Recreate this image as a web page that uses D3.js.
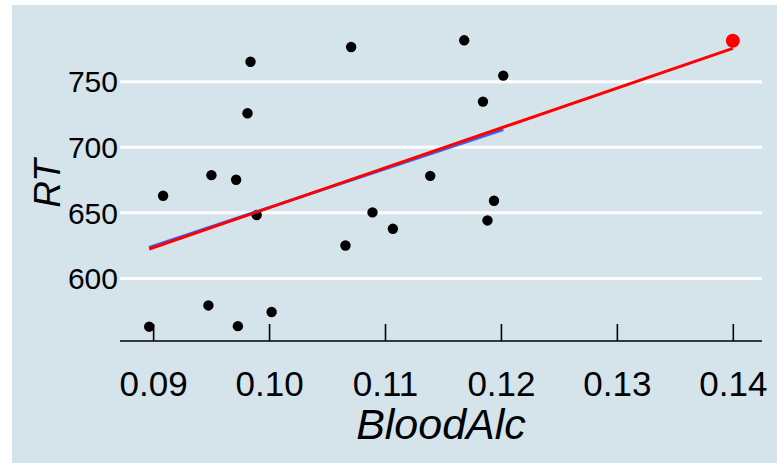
<!DOCTYPE html>
<html>
<head>
<meta charset="utf-8">
<script src="https://cdn.jsdelivr.net/npm/d3@7"></script>
<style>
  html, body { margin: 0; padding: 0; background: #ffffff; }
  svg { display: block; }
  text { font-family: "Liberation Sans", Arial, Helvetica, sans-serif; fill: #000; }
</style>
</head>
<body>
<svg id="chart" width="777" height="463"></svg>
<script>
// Blood alcohol level vs. reaction time
const bloodAlc = [0.08966, 0.09086, 0.09477, 0.09503, 0.09716, 0.09731, 0.09814, 0.09840, 0.09893, 0.10022,
                  0.10659, 0.10708, 0.10892, 0.11068, 0.11390, 0.11683, 0.11845, 0.11884, 0.11940, 0.12020];
const rt       = [563.2, 663.0, 579.4, 678.7, 675.2, 563.6, 725.9, 765.2, 648.3, 574.4,
                  625.1, 776.4, 650.3, 637.8, 678.2, 781.5, 734.8, 644.2, 659.2, 754.6];
// Added observation
const extraAlc = [0.14];
const extraRT  = [781.2];

const xTicks = [0.09, 0.10, 0.11, 0.12, 0.13, 0.14];
const yTicks = [600, 650, 700, 750];

const W = 777, H = 463;
const plot = { left: 120, right: 762, top: 26, bottom: 341 };

const svg = d3.select("#chart");

// panel background
svg.append("rect")
  .attr("x", 12).attr("y", 5)
  .attr("width", W - 12).attr("height", H - 5)
  .attr("fill", "#d5e4eb");

const allX = bloodAlc.concat(extraAlc);
const allY = rt.concat(extraRT);

function expanded(vals) {
  const [lo, hi] = d3.extent(vals);
  const pad = (hi - lo) * 0.05;
  return [lo - pad, hi + pad];
}

const x = d3.scaleLinear().domain(expanded(allX)).range([plot.left, plot.right]);
const y = d3.scaleLinear().domain(expanded(allY)).range([plot.bottom, plot.top]);

// horizontal grid
svg.append("g")
  .selectAll("line")
  .data(yTicks)
  .join("line")
  .attr("x1", plot.left).attr("x2", plot.right)
  .attr("y1", d => y(d)).attr("y2", d => y(d))
  .attr("stroke", "#ffffff")
  .attr("stroke-width", 3);

// y labels (no axis line)
svg.append("g")
  .selectAll("text")
  .data(yTicks)
  .join("text")
  .attr("x", plot.left - 2)
  .attr("y", d => y(d))
  .attr("dy", "0.36em")
  .attr("text-anchor", "end")
  .attr("font-size", 30)
  .text(d => d);

// x axis with inward ticks
const xAxis = d3.axisBottom(x)
  .tickValues(xTicks)
  .tickFormat(d3.format(".2f"))
  .tickSizeInner(-17)
  .tickSizeOuter(0)
  .tickPadding(32);

const gx = svg.append("g")
  .attr("transform", `translate(0,${plot.bottom})`)
  .call(xAxis);
gx.select(".domain")
  .attr("d", `M${plot.left},0H${plot.right}`)
  .attr("stroke", "#000").attr("stroke-width", 1.6);
gx.selectAll(".tick line").attr("stroke", "#000").attr("stroke-width", 1.6);
gx.selectAll(".tick text")
  .attr("font-size", 35)
  .attr("font-family", "Liberation Sans, Arial, sans-serif")
  .attr("fill", "#000")
  .attr("y", 54.5)
  .attr("dy", null);

// least squares fit
function fit(xs, ys) {
  const mx = d3.mean(xs), my = d3.mean(ys);
  let sxy = 0, sxx = 0;
  xs.forEach((v, i) => { sxy += (v - mx) * (ys[i] - my); sxx += (v - mx) * (v - mx); });
  const b = sxy / sxx;
  const a = my - b * mx;
  const [x0, x1] = d3.extent(xs);
  return [[x0, a + b * x0], [x1, a + b * x1]];
}

const line = d3.line().x(d => x(d[0])).y(d => y(d[1]));

// points
svg.append("g")
  .selectAll("circle")
  .data(bloodAlc.map((v, i) => [v, rt[i]]))
  .join("circle")
  .attr("cx", d => x(d[0]))
  .attr("cy", d => y(d[1]))
  .attr("r", 5.2)
  .attr("fill", "#000");

// fit without and with the added observation
svg.append("path")
  .attr("d", line(fit(bloodAlc, rt)))
  .attr("fill", "none")
  .attr("stroke", "#3366ff")
  .attr("stroke-width", 3);

svg.append("path")
  .attr("d", line(fit(allX, allY)))
  .attr("fill", "none")
  .attr("stroke", "#ff0000")
  .attr("stroke-width", 3);

svg.append("g")
  .selectAll("circle")
  .data(extraAlc.map((v, i) => [v, extraRT[i]]))
  .join("circle")
  .attr("cx", d => x(d[0]))
  .attr("cy", d => y(d[1]))
  .attr("r", 7)
  .attr("fill", "#ff0000");

// axis titles
svg.append("text")
  .attr("x", (plot.left + plot.right) / 2)
  .attr("y", 439)
  .attr("text-anchor", "middle")
  .attr("font-size", 43)
  .attr("font-style", "italic")
  .text("BloodAlc");

svg.append("text")
  .attr("transform", `translate(60,${(plot.top + plot.bottom) / 2}) rotate(-90)`)
  .attr("text-anchor", "middle")
  .attr("font-size", 37)
  .attr("font-style", "italic")
  .text("RT");
</script>
</body>
</html>
